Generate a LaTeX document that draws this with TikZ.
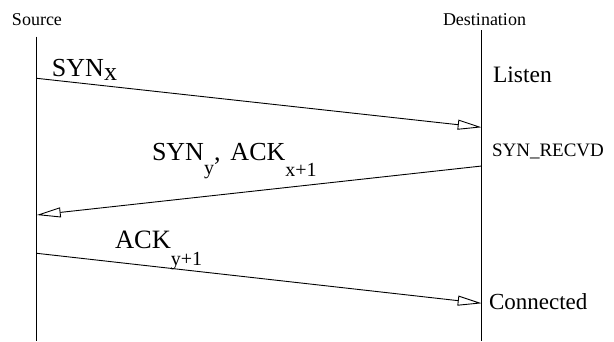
\documentclass[tikz,border=0pt]{standalone}
\usepackage{fontspec}
\setmainfont{Liberation Serif}
\usetikzlibrary{arrows.meta}
\newcommand{\lowsub}[3]{\raisebox{-#1pt}{\fontsize{#2}{#2}\selectfont #3}}
\begin{document}
\begin{tikzpicture}[x=1pt,y=-1pt,
  lbl/.style={anchor=base west,inner sep=0pt,outer sep=0pt},
  life/.style={line width=1.3pt},
  msg/.style={line width=0.9pt,-{Triangle[open,length=24pt,width=10pt,line width=0.9pt]}}]
\useasboundingbox (0,0) rectangle (614,341);
% lifelines
\coordinate (stop) at (36.7,36.7);
\coordinate (sbot) at (36.7,341);
\coordinate (dtop) at (481.7,30);
\coordinate (dbot) at (481.7,341);
\draw[life] (stop) -- (sbot);
\draw[life] (dtop) -- (dbot);
% labels
\node[lbl,font=\fontsize{18}{18}\selectfont] (src) at (12,25) {Source};
\node[lbl,font=\fontsize{18}{18}\selectfont] (dst) at (443,25) {Destination};
\node[lbl,font=\fontsize{23.5}{23.5}\selectfont] (listen) at (493,82.7) {Listen};
\node[lbl,font=\fontsize{19}{19}\selectfont] (recvd) at (492,156.7) {SYN\_RECVD};
\node[lbl,font=\fontsize{23}{23}\selectfont] (conn) at (489,309.3) {Connected};
\node[lbl,font=\fontsize{26}{26}\selectfont] (m1) at (52,76) {SYN\lowsub{4}{26}{x}};
\node[lbl,font=\fontsize{26}{26}\selectfont] (m2) at (152,160) {SYN\lowsub{14}{20}{y},\hspace{10pt}ACK\lowsub{16.5}{20}{x+1}};
\node[lbl,font=\fontsize{26.5}{26.5}\selectfont] (m3) at (115,248.3) {ACK\lowsub{17.5}{20}{y+1}};
% message endpoints
\coordinate (a1s) at (36.7,78.3);
\coordinate (a1e) at (481.7,127.3);
\coordinate (a2s) at (481.7,166);
\coordinate (a2e) at (36.7,215);
\coordinate (a3s) at (36.7,253.3);
\coordinate (a3e) at (481.7,303.3);
\draw[msg] (a1s) -- (a1e);
\draw[msg] (a2s) -- (a2e);
\draw[msg] (a3s) -- (a3e);
\end{tikzpicture}
\end{document}
